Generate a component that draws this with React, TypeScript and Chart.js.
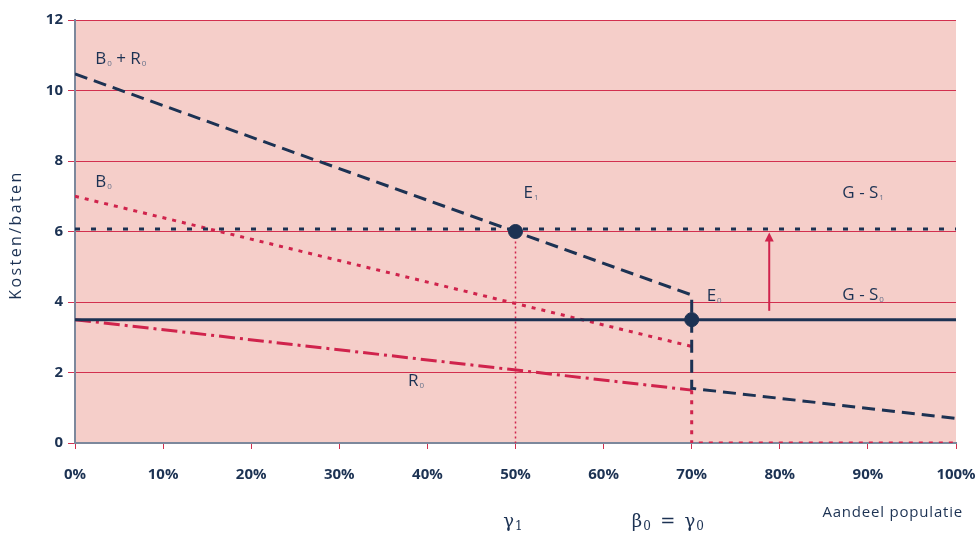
import React, { useEffect, useRef } from 'react';
import { Chart, registerables } from 'chart.js';
Chart.register(...registerables);

// ---- data ----
const xTicks = [0, 10, 20, 30, 40, 50, 60, 70, 80, 90, 100];
const yTicks = [0, 2, 4, 6, 8, 10, 12];

const bPlusR0X = [0, 70, 70, 100];
const bPlusR0Y = [10.47, 4.2, 1.55, 0.7];
const gs1X = [0, 100];
const gs1Y = [6.07, 6.07];
const gs0X = [0, 100];
const gs0Y = [3.5, 3.5];
const b0X = [0, 70];
const b0Y = [7.0, 2.74];
const r0X = [0, 70];
const r0Y = [3.5, 1.5];
const gamma1DropX = [50, 50];
const gamma1DropY = [6, 0];
const gamma0DropX = [70, 70, 100];
const gamma0DropY = [1.5, 0, 0];
const eqX = [50, 70];
const eqY = [6, 3.5];
const arrowX = [78.8, 78.8];
const arrowY = [3.75, 5.97];

const labelTexts = ['B_0 + R_0', 'B_0', 'E_1', 'G - S_1', 'E_0', 'G - S_0', 'R_0'];
const labelX = [2.3, 2.3, 50.9, 87.1, 71.7, 87.1, 37.8];
const labelY = [10.75, 7.26, 6.95, 6.95, 4.03, 4.05, 1.62];

const yTitle = 'Kosten/baten';
const xTitle = 'Aandeel populatie';
const greekTexts = ['γ_1', 'β_0 \u2009= \u2009γ_0'];
const greekX = [48.6, 63.2];

// ---- styles ----
const NAVY = '#1c3253';
const RED = '#d0234c';
const GRID = '#d2304f';
const PINK = '#f5cec9';
const BORDER = '#7c889c';
const SUBGREY = '#66728a';
const FONT = '"Open Sans", "Noto Sans", sans-serif';
const SERIF = '"DejaVu Serif", "Liberation Serif", serif';

const pts = (xs: number[], ys: number[]) => xs.map((x, i) => ({ x, y: ys[i] }));

function drawSubText(
  ctx: CanvasRenderingContext2D, text: string, x: number, y: number,
  size: number, subSize: number, family: string, color: string, subColor: string, subDrop: number
) {
  let cx = x;
  const parts = text.split(/(_\d)/);
  for (const p of parts) {
    if (!p) continue;
    if (p.startsWith('_')) {
      const s = p.slice(1);
      ctx.font = `${subSize}px ${family}`;
      ctx.fillStyle = subColor;
      ctx.fillText(s, cx + 1, y + subDrop);
      cx += ctx.measureText(s).width + 1;
    } else {
      ctx.font = `${size}px ${family}`;
      ctx.fillStyle = color;
      ctx.fillText(p, cx, y);
      cx += ctx.measureText(p).width;
    }
  }
}

const decor = {
  id: 'decor',
  beforeDraw(chart: any) {
    const { ctx, chartArea: a } = chart;
    ctx.save();
    ctx.fillStyle = PINK;
    ctx.fillRect(a.left, a.top, a.right - a.left, a.bottom - a.top);
    ctx.restore();
  },
  afterDatasetsDraw(chart: any) {
    const { ctx } = chart;
    const xs = chart.scales.x;
    const ys = chart.scales.y;
    ctx.save();
    // arrow
    const ax = xs.getPixelForValue(arrowX[0]);
    const y0 = ys.getPixelForValue(arrowY[0]);
    const y1 = ys.getPixelForValue(arrowY[1]);
    ctx.strokeStyle = RED;
    ctx.fillStyle = RED;
    ctx.lineWidth = 2;
    ctx.beginPath();
    ctx.moveTo(ax, y0);
    ctx.lineTo(ax, y1 + 6);
    ctx.stroke();
    ctx.beginPath();
    ctx.moveTo(ax, y1);
    ctx.lineTo(ax - 4.5, y1 + 9);
    ctx.lineTo(ax + 4.5, y1 + 9);
    ctx.closePath();
    ctx.fill();
    // labels
    ctx.textBaseline = 'alphabetic';
    ctx.textAlign = 'left';
    labelTexts.forEach((t, i) => {
      drawSubText(ctx, t, xs.getPixelForValue(labelX[i]), ys.getPixelForValue(labelY[i]),
        17, 8, FONT, NAVY, SUBGREY, 2);
    });
    ctx.restore();
  },
  afterDraw(chart: any) {
    const { ctx, chartArea: a } = chart;
    const xs = chart.scales.x;
    ctx.save();
    ctx.fillStyle = NAVY;
    ctx.font = `16px ${FONT}`;
    (ctx as any).letterSpacing = '2.4px';
    ctx.textAlign = 'center';
    ctx.textBaseline = 'middle';
    ctx.translate(16, 235);
    ctx.rotate(-Math.PI / 2);
    ctx.fillText(yTitle, 0, 0);
    ctx.restore();

    ctx.save();
    ctx.fillStyle = NAVY;
    ctx.font = `15px ${FONT}`;
    (ctx as any).letterSpacing = '0.8px';
    ctx.textAlign = 'right';
    ctx.textBaseline = 'alphabetic';
    ctx.fillText(xTitle, a.right + 7, a.bottom + 74);
    (ctx as any).letterSpacing = '0px';
    ctx.textAlign = 'left';
    greekTexts.forEach((t, i) => {
      drawSubText(ctx, t, xs.getPixelForValue(greekX[i]), a.bottom + 84, 18, 12, SERIF, NAVY, NAVY, 3);
    });
    ctx.restore();
  },
};

export default function App() {
  const ref = useRef<HTMLCanvasElement>(null);
  useEffect(() => {
    if (!ref.current) return;
    const lineDs = (label: string, xs: number[], ys: number[], color: string, width: number, dash: number[], order: number) => ({
      label,
      data: pts(xs, ys),
      borderColor: color,
      backgroundColor: color,
      borderWidth: width,
      borderDash: dash,
      pointRadius: 0,
      fill: false,
      tension: 0,
      order,
    });
    const chart = new Chart(ref.current, {
      type: 'line',
      data: {
        datasets: [
          {
            label: 'E',
            data: pts(eqX, eqY),
            showLine: false,
            pointRadius: 7,
            pointHoverRadius: 7,
            pointBackgroundColor: NAVY,
            pointBorderColor: NAVY,
            borderColor: NAVY,
            order: 0,
          } as any,
          lineDs('G - S1', gs1X, gs1Y, NAVY, 3, [5, 11], 1),
          lineDs('G - S0', gs0X, gs0Y, NAVY, 3, [], 2),
          lineDs('B0 + R0', bPlusR0X, bPlusR0Y, NAVY, 3, [13, 7], 3),
          lineDs('B0', b0X, b0Y, RED, 3, [4, 6], 4),
          lineDs('R0', r0X, r0Y, RED, 3, [16, 5, 3, 5], 5),
          lineDs('drop1', gamma1DropX, gamma1DropY, RED, 1.5, [2, 3], 6),
          lineDs('drop0', gamma0DropX, gamma0DropY, RED, 3, [4, 6], 7),
        ],
      },
      options: {
        responsive: false,
        animation: false,
        devicePixelRatio: 1,
        layout: { padding: { top: 20, right: 22, left: 0, bottom: 0 } },
        plugins: { legend: { display: false }, tooltip: { enabled: false }, title: { display: false } },
        events: [],
        scales: {
          x: {
            type: 'linear',
            min: 0,
            max: 100,
            afterBuildTicks: (s: any) => { s.ticks = xTicks.map((v) => ({ value: v })); },
            afterFit: (s: any) => { s.height = 91; s.paddingLeft = 0; s.paddingRight = 0; },
            ticks: {
              callback: (v: any) => `${v}%`,
              color: NAVY,
              font: { family: FONT, size: 15, weight: 'bold' },
              padding: 17,
              maxRotation: 0,
              autoSkip: false,
            },
            grid: { drawOnChartArea: false, drawTicks: true, tickLength: 6, tickColor: GRID, color: GRID },
            border: { color: BORDER, width: 2 },
          },
          y: {
            type: 'linear',
            min: 0,
            max: 12,
            afterBuildTicks: (s: any) => { s.ticks = yTicks.map((v) => ({ value: v })); },
            afterFit: (s: any) => { s.width = 75; s.paddingTop = 0; s.paddingBottom = 0; },
            ticks: {
              color: NAVY,
              font: { family: FONT, size: 15, weight: 'bold' },
              padding: 5,
              autoSkip: false,
            },
            grid: { color: GRID, lineWidth: 1, tickLength: 7, tickColor: GRID },
            border: { color: BORDER, width: 2 },
          },
        },
      } as any,
      plugins: [decor],
    });
    return () => chart.destroy();
  }, []);
  return (
    <div style={{ position: 'absolute', left: 0, top: 0, width: 978, height: 534, background: '#fff' }}>
      <canvas ref={ref} width={978} height={534} style={{ width: 978, height: 534 }} />
    </div>
  );
}
